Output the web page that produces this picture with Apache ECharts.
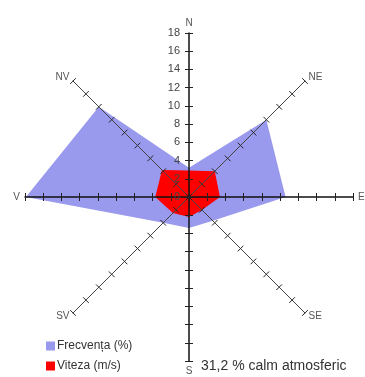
<!DOCTYPE html>
<html>
<head>
<meta charset="utf-8">
<script src="https://cdn.jsdelivr.net/npm/echarts@6/dist/echarts.min.js"></script>
<style>
  html, body { margin: 0; padding: 0; background: #fff; }
  #rose { width: 365px; height: 377px; }
</style>
</head>
<body>
<div id="rose"></div>
<script>
// directions in the order the radar draws them (counterclockwise from N)
const directions = ['N', 'NV', 'V', 'SV', 'S', 'SE', 'E', 'NE'];
const frecventa = [3.2, 14, 17.9, 4, 3.4, 3.7, 10.6, 12];
const viteza = [2.9, 4.2, 3.7, 2.5, 2.2, 2, 3.4, 4];
const seriesNames = ['Frecvența (%)', 'Viteza (m/s)'];
const axisMax = 18;
const axisStep = 2;
const calmText = '31,2 % calm atmosferic';

const diagonal = ['NV', 'SV', 'SE', 'NE'];

let chart = echarts.init(document.getElementById('rose'), null, { renderer: 'canvas' });

function indicators(withLabels) {
  return directions.map(d => {
    let ind = { name: d, min: 0, max: axisMax };
    if (withLabels) {
      ind.axisLabel = { show: d === 'N' };
      ind.axisLine = {
        show: true,
        lineStyle: { color: diagonal.includes(d) ? '#444' : '#111', width: diagonal.includes(d) ? 1 : 1.5 }
      };
    }
    return ind;
  });
}

const radarBase = {
  center: [189, 197],
  radius: 164,
  startAngle: 90,
  splitNumber: axisMax / axisStep,
  shape: 'polygon',
  splitLine: { show: false },
  splitArea: { show: false },
  z: 5
};

const tickStyle = { color: '#222', width: 1 };

let options = {
  animation: false,
  textStyle: { fontFamily: 'Liberation Sans' },
  radar: [
    Object.assign({}, radarBase, {
      indicator: indicators(true),
      axisName: { color: '#555', fontSize: 10, fontFamily: 'Liberation Sans' },
      nameGap: 5,
      axisLine: { show: true, lineStyle: { color: '#333', width: 1 } },
      axisTick: { show: true, length: 4, lineStyle: tickStyle },
      axisLabel: { show: false, color: '#444', fontSize: 11, margin: 9 }
    }),
    // second copy only for the other half of the cross ticks (radar ignores "inside")
    Object.assign({}, radarBase, {
      indicator: indicators(false),
      axisName: { show: false },
      axisLine: { show: false },
      axisTick: { show: true, length: -4, lineStyle: tickStyle },
      axisLabel: { show: false }
    })
  ],
  // one legend per item so they stack
  legend: seriesNames.map((n, i) => ({
    left: 46,
    top: 340 + i * 20,
    padding: 0,
    itemWidth: 9,
    itemHeight: 9,
    itemGap: 0,
    icon: 'rect',
    textStyle: { color: '#333', fontSize: 12, padding: [0, 0, 0, -3] },
    data: [n]
  })),
  title: {
    text: calmText,
    left: 201,
    top: 359,
    padding: 0,
    textStyle: { color: '#333', fontSize: 14, fontWeight: 'normal' }
  },
  series: [
    {
      type: 'radar',
      radarIndex: 0,
      z: 1,
      symbol: 'none',
      lineStyle: { width: 0 },
      data: [
        { name: seriesNames[0], value: frecventa,
          itemStyle: { color: '#9999ee' }, areaStyle: { color: '#9999ee', opacity: 1 } },
        { name: seriesNames[1], value: viteza,
          itemStyle: { color: '#ff0000' }, areaStyle: { color: '#ff0000', opacity: 1 } }
      ]
    }
  ]
};

chart.setOption(options);
</script>
</body>
</html>
